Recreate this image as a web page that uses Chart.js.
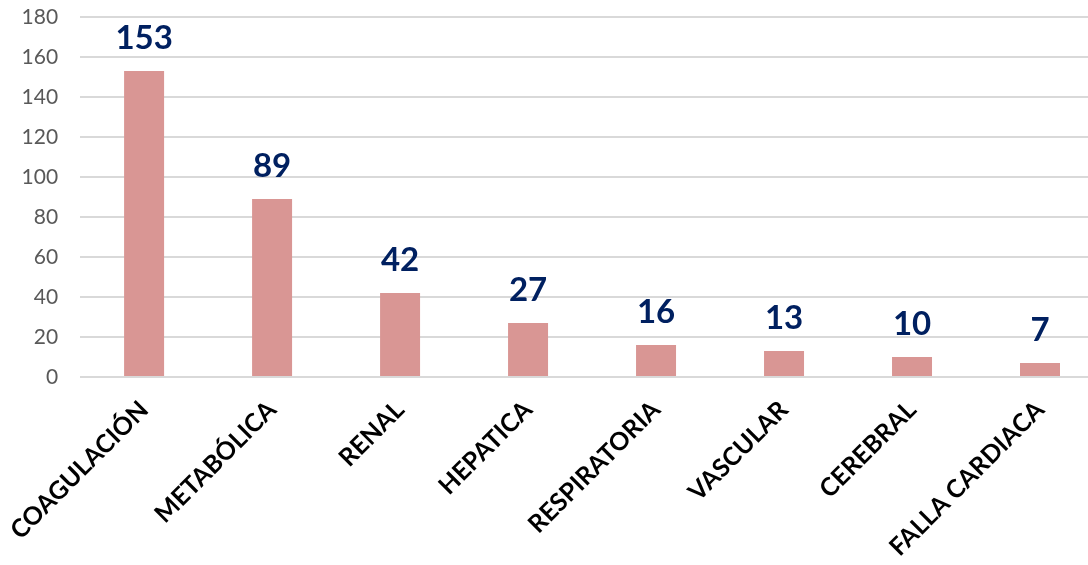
<!DOCTYPE html>
<html>
<head>
<meta charset="utf-8">
<script src="https://cdn.jsdelivr.net/npm/chart.js@4"></script>
<style>
  html, body { margin: 0; padding: 0; background: #fff; overflow: hidden; }
  #wrap { width: 1110px; height: 565px; }
</style>
</head>
<body>
<div id="wrap"><canvas id="myChart"></canvas></div>
<script>
const categories = ['COAGULACIÓN', 'METABÓLICA', 'RENAL', 'HEPATICA', 'RESPIRATORIA', 'VASCULAR', 'CEREBRAL', 'FALLA CARDIACA'];
const counts = [153, 89, 42, 27, 16, 13, 10, 7];
const yTicks = [0, 20, 40, 60, 80, 100, 120, 140, 160, 180];

// draws the value above each bar
const valueLabels = {
    id: 'valueLabels',
    afterDatasetsDraw(chart) {
        const ctx = chart.ctx;
        const meta = chart.getDatasetMeta(0);
        ctx.save();
        ctx.font = 'bold 33px Lato, "Open Sans", sans-serif';
        ctx.fillStyle = '#002060';
        ctx.textAlign = 'center';
        ctx.textBaseline = 'alphabetic';
        meta.data.forEach((bar, i) => {
            ctx.fillText(counts[i], bar.x, bar.y - 22);
        });
        ctx.restore();
    }
};

const ctx = document.getElementById('myChart').getContext('2d');
const myChart = new Chart(ctx, {
    type: 'bar',
    data: {
        labels: categories,
        datasets: [{
            data: counts,
            backgroundColor: '#D99694',
            borderWidth: 0,
            barPercentage: 0.625,
            categoryPercentage: 0.5
        }]
    },
    options: {
        responsive: true,
        maintainAspectRatio: false,
        animation: false,
        layout: { padding: { top: 17, right: 6, left: 0, bottom: 0 } },
        plugins: {
            legend: { display: false },
            tooltip: { enabled: false }
        },
        scales: {
            x: {
                grid: { display: false },
                border: { display: false },
                ticks: {
                    maxRotation: 45,
                    minRotation: 45,
                    color: '#000',
                    padding: 10,
                    font: { family: 'Lato, "Open Sans", sans-serif', size: 25, weight: 'bold' }
                },
                afterFit(scale) { scale.height = 188; }
            },
            y: {
                min: 0,
                max: 180,
                afterBuildTicks(scale) { scale.ticks = yTicks.map(v => ({ value: v })); },
                grid: { color: '#d9d9d9', lineWidth: 2, drawTicks: false },
                border: { display: false },
                ticks: {
                    color: '#595959',
                    padding: 22,
                    font: { family: 'Lato, "Open Sans", sans-serif', size: 21 }
                },
                afterFit(scale) {
                    scale.width = 80;
                    scale.paddingTop = 0;
                    scale.paddingBottom = 0;
                }
            }
        }
    },
    plugins: [valueLabels]
});
</script>
</body>
</html>
